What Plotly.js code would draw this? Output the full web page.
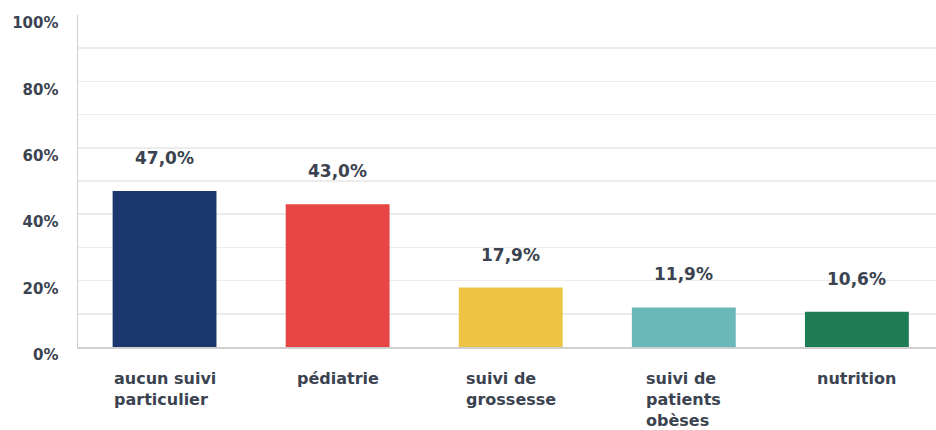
<!DOCTYPE html>
<html>
<head>
<meta charset="utf-8">
<script src="https://cdn.plot.ly/plotly-3.0.1.min.js"></script>
<style>html,body{margin:0;padding:0;background:#fff;}#chart{width:936px;height:430px;}</style>
</head>
<body>
<div id="chart"></div>
<script>
const categories = ["aucun suivi<br>particulier", "pédiatrie", "suivi de<br>grossesse", "suivi de<br>patients<br>obèses", "nutrition"];
const values = [47.0, 43.0, 17.9, 11.9, 10.6];
const colors = ["#1c376e", "#e84545", "#edc343", "#6bb8ba", "#1e7c54"];
const yTickValues = [0, 20, 40, 60, 80, 100];
const yTickLabels = ["0%", "20%", "40%", "60%", "80%", "100%"];

const textColor = "#3b4350";
const fontFamily = "'DejaVu Sans', sans-serif";

const trace = {
  type: "bar",
  x: categories,
  y: values,
  marker: { color: colors },
  width: 0.6,
  hoverinfo: "none"
};

const valueAnnotations = categories.map((c, i) => ({
  x: c, y: values[i], xref: "x", yref: "y",
  text: values[i].toFixed(1).replace(".", ",") + "%",
  showarrow: false, yanchor: "middle", yshift: 33,
  font: { family: fontFamily, size: 17, color: textColor, weight: "bold" }
}));

const catAnnotations = categories.map((c) => ({
  x: c, y: 0, xref: "x", yref: "y",
  text: c, showarrow: false, yanchor: "top", yshift: -20, align: "left",
  font: { family: fontFamily, size: 16, color: textColor, weight: "bold" }
}));

const layout = {
  width: 936, height: 430,
  margin: { l: 78, r: 0, t: 15, b: 83, pad: 0 },
  paper_bgcolor: "#ffffff", plot_bgcolor: "#ffffff",
  showlegend: false,
  xaxis: {
    type: "category",
    range: [-0.5, 4.457],
    showticklabels: false,
    showgrid: false,
    showline: true, linecolor: "#cfcfcf", linewidth: 1.5,
    ticks: "", zeroline: false, fixedrange: true
  },
  yaxis: {
    range: [0, 100],
    tickvals: yTickValues, ticktext: yTickLabels,
    showgrid: true, gridcolor: "#ececec", gridwidth: 1.5,
    minor: { dtick: 10, showgrid: true, gridcolor: "#ececec", gridwidth: 1.5 },
    showline: true, linecolor: "#cfcfcf", linewidth: 1.5,
    zeroline: false, ticks: "",
    ticklabelstandoff: 15,
    ticklabelshift: 8,
    tickfont: { family: fontFamily, size: 15, color: textColor, weight: "bold" },
    fixedrange: true
  },
  annotations: valueAnnotations.concat(catAnnotations)
};

Plotly.newPlot("chart", [trace], layout, { displayModeBar: false, staticPlot: true });
</script>
</body>
</html>
